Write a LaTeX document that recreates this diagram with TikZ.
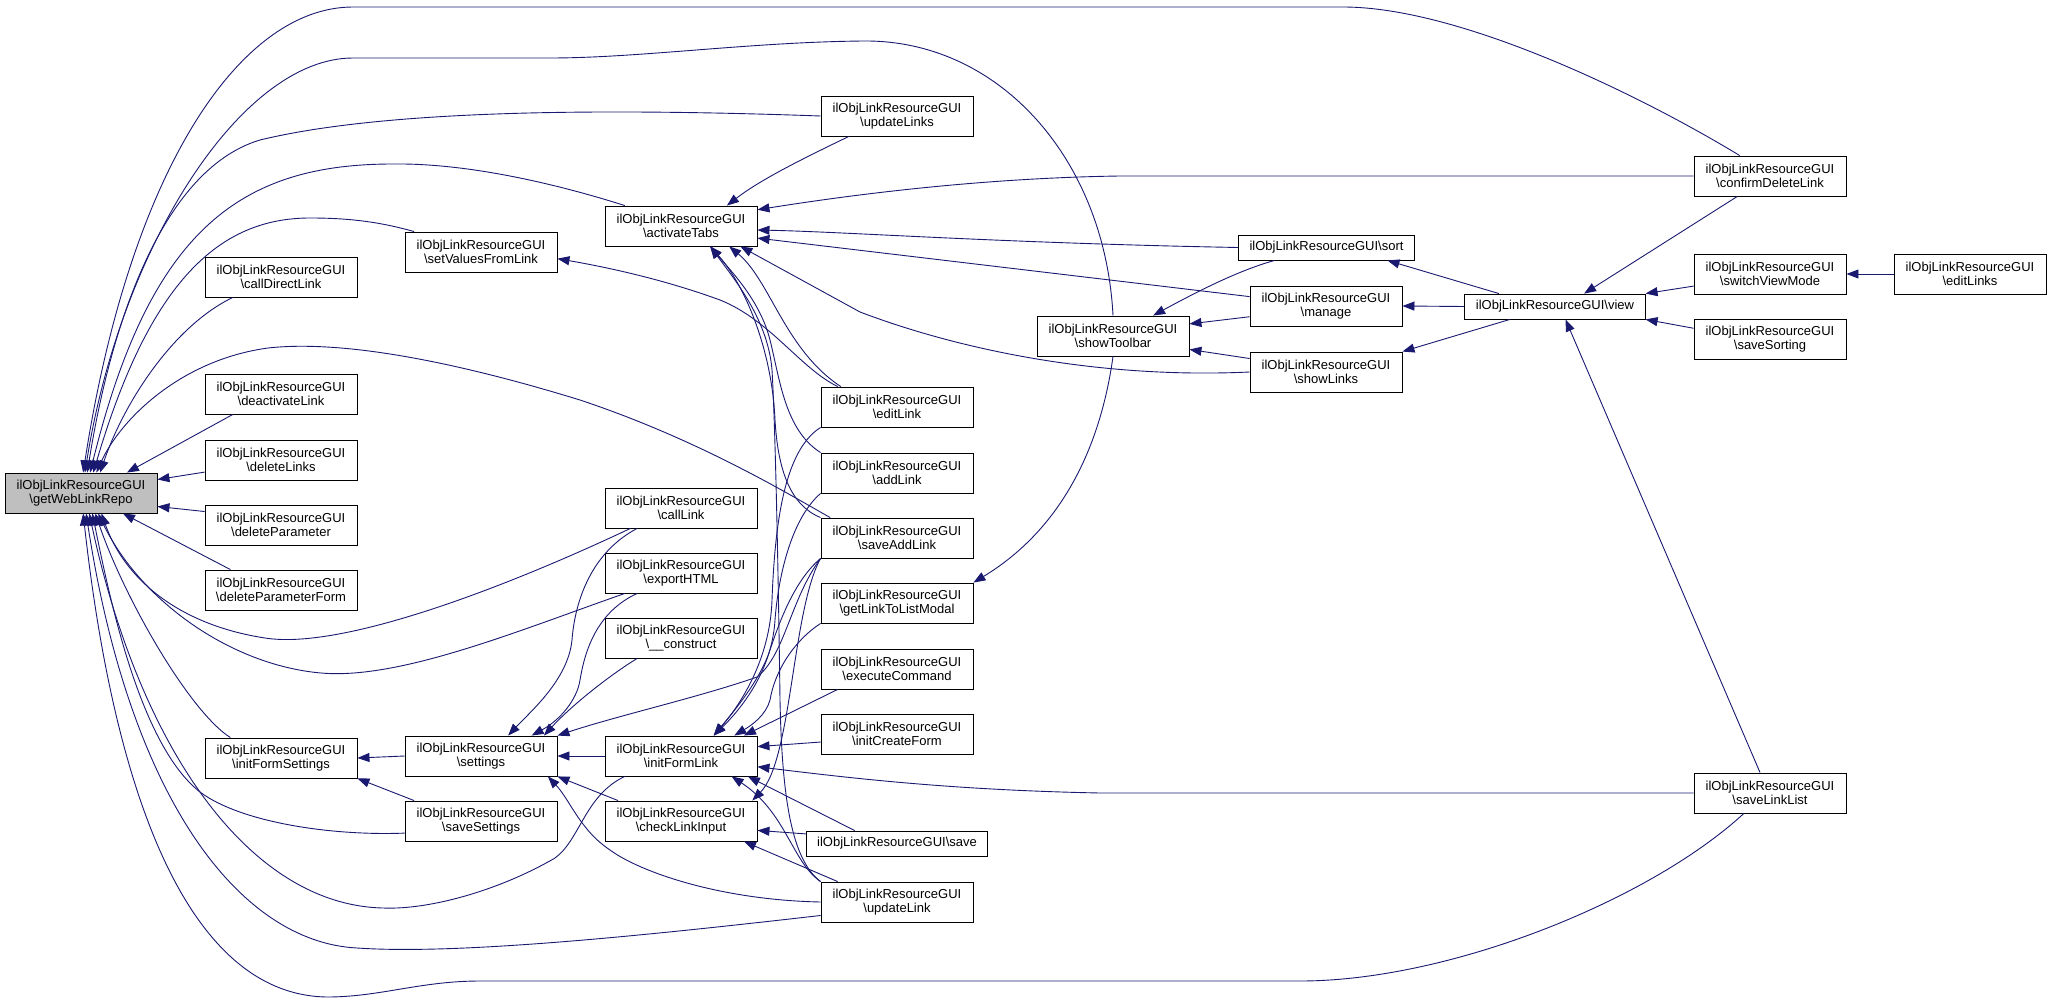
\documentclass[tikz,border=0pt]{standalone}
\usepackage{fontspec}
\setmainfont{Liberation Sans}
\usetikzlibrary{arrows.meta}
\definecolor{callblue}{HTML}{191970}
\definecolor{rootgray}{HTML}{BFBFBF}
\newcommand{\ilgui}{ilObjLinkResourceGUI}
\tikzset{
  fn/.style={draw=black, fill=white, line width=0.9pt, inner xsep=11pt, inner ysep=0pt,
    minimum width=152pt, minimum height=40pt, align=center,
    font=\fontsize{13}{14.5}\selectfont},
  fnone/.style={fn, minimum height=25pt},
  call/.style={draw=callblue, line width=0.9pt, -{Triangle[length=12pt,width=9pt]}}
}
\begin{document}
\begin{tikzpicture}[x=1pt, y=-1pt]
\useasboundingbox (0,0) rectangle (2052,1003);

% nodes
\node[fn, fill=rootgray] (rep) at (81,493) {\ilgui\\\textbackslash getWebLinkRepo};
\foreach \n/\y/\lab in {cdl/277/callDirectLink, dal/394/deactivateLink, dl/460/deleteLinks,
    dp/525/deleteParameter, dpf/590/deleteParameterForm, ifs/758/initFormSettings}
  \node[fn] (\n) at (281,\y) {\ilgui\\\textbackslash \lab};
\foreach \n/\y/\lab in {svfl/252/setValuesFromLink, sett/756/settings, ss/821/saveSettings}
  \node[fn] (\n) at (481,\y) {\ilgui\\\textbackslash \lab};
\foreach \n/\y/\lab in {tabs/226/activateTabs, cl/508/callLink, eh/573/exportHTML,
    cons/638/\_\_construct, ifl/756/initFormLink, cli/821/checkLinkInput}
  \node[fn] (\n) at (681,\y) {\ilgui\\\textbackslash \lab};
\foreach \n/\y/\lab in {ul/116/updateLinks, el/407/editLink, al/473/addLink, sal/538/saveAddLink,
    gltl/603/getLinkToListModal, ec/669/executeCommand, icf/734/initCreateForm, ulk/902/updateLink}
  \node[fn] (\n) at (897,\y) {\ilgui\\\textbackslash \lab};
\node[fnone] (save) at (897,843.5) {\ilgui\textbackslash save};
\node[fn] (tb) at (1113,336) {\ilgui\\\textbackslash showToolbar};
\node[fnone] (sort) at (1326.5,247.5) {\ilgui\textbackslash sort};
\node[fn] (mg) at (1326,306) {\ilgui\\\textbackslash manage};
\node[fn] (sl) at (1326,372) {\ilgui\\\textbackslash showLinks};
\node[fnone] (view) at (1555,306.5) {\ilgui\textbackslash view};
\foreach \n/\y/\lab in {cdlk/176/confirmDeleteLink, svm/274/switchViewMode, ssort/339/saveSorting,
    sll/793/saveLinkList}
  \node[fn] (\n) at (1770,\y) {\ilgui\\\textbackslash \lab};
\node[fn] (el2) at (1970,274) {\ilgui\\\textbackslash editLinks};

% callers of getWebLinkRepo
\draw[call] (cdlk.146) .. controls (1640,95) and (1460,7) .. (1343,7) -- (353,7) .. controls (240,7) and (130,170) .. (rep.84);
\draw[call] (tb.north) .. controls (1105,160) and (1000,40) .. (864,41) .. controls (750,42) and (640,58) .. (550,58) -- (353,58) .. controls (240,58) and (120,250) .. (rep.79);
\draw[call] (ul.west) .. controls (650,110) and (400,106) .. (260,140) .. controls (160,170) and (110,330) .. (rep.73);
\draw[call] (tabs.160) .. controls (560,185) and (470,163) .. (393,164) .. controls (240,164) and (150,230) .. (rep.66);
\draw[call] (svfl.163) .. controls (380,222) and (350,218) .. (310,218) .. controls (220,218) and (150,280) .. (rep.59);
\draw[call] (sal.163) .. controls (790,495) and (700,440) .. (580,400) .. controls (450,360) and (340,340) .. (268,348) .. controls (180,360) and (120,420) .. (rep.53);
\draw[call] (cdl.203) .. controls (175,325) and (125,400) .. (rep.47);
\draw[call] (dal.203) -- (rep.24);
\draw[call] (dl.189) -- (rep.10);
\draw[call] (dp.170) -- (rep.350);
\draw[call] (dpf.158) -- (rep.334);
\draw[call] (ifs.158) .. controls (190,712) and (125,600) .. (rep.305);
\draw[call] (cl.202) .. controls (500,590) and (340,650) .. (265,638) .. controls (180,625) and (125,580) .. (rep.315);
\draw[call] (eh.200) .. controls (520,630) and (400,680) .. (321,673) .. controls (230,665) and (140,600) .. (rep.310);
\draw[call] (ss.189) .. controls (330,836) and (240,822) .. (200,792) .. controls (140,745) and (110,600) .. (rep.299);
\draw[call] (ifl.200) .. controls (585,795) and (580,840) .. (555,858) .. controls (500,890) and (430,910) .. (383,908) .. controls (250,905) and (140,750) .. (rep.292);
\draw[call] (ulk.190) .. controls (650,935) and (460,955) .. (357,948) .. controls (240,942) and (130,800) .. (rep.284);
\draw[call] (sll.218) .. controls (1650,900) and (1450,981) .. (1300,981) -- (480,981) .. controls (420,981) and (380,997) .. (327,997) .. controls (190,995) and (115,800) .. (rep.276);

% setValuesFromLink
\draw[call] (el.161) .. controls (800,368) and (770,320) .. (720,300) .. controls (660,278) and (600,266) .. (svfl.355);

% activateTabs
\draw[call] (ul.203) .. controls (800,160) and (760,180) .. (tabs.24);
\draw[call] (cdlk.west) -- (1120,176) .. controls (980,178) and (850,195) .. (tabs.12);
\draw[call] (sort.west) .. controls (1000,243) and (850,232) .. (tabs.357);
\draw[call] (mg.173) -- (tabs.351);
\draw[call] (sl.west) .. controls (1100,379) and (960,350) .. (860,312) -- (tabs.341);
\draw[call] (el.160) .. controls (785,350) and (770,280) .. (tabs.337);
\draw[call] (al.north west) .. controls (785,430) and (780,380) .. (770,340) .. controls (760,300) and (730,270) .. (tabs.325);
\draw[call] (sal.north west) .. controls (790,505) and (778,470) .. (775,420) .. controls (772,350) and (745,285) .. (tabs.325);
\draw[call] (ulk.north west) .. controls (792,860) and (782,800) .. (780,700) .. controls (778,550) and (775,420) .. (772,370) .. controls (768,320) and (735,280) .. (tabs.325);

% settings
\draw[call] (ifl.west) -- (sett.east);
\draw[call] (cli.162) -- (sett.south east);
\draw[call] (ulk.west) .. controls (720,900) and (640,872) .. (610,850) .. controls (580,830) and (570,800) .. (sett.343);
\draw[call] (cl.205) .. controls (592,552) and (575,600) .. (572,640) .. controls (568,680) and (530,712) .. (sett.37);
\draw[call] (eh.205) .. controls (597,612) and (585,650) .. (580,680) .. controls (577,700) and (560,720) .. (sett.22);
\draw[call] (cons.205) .. controls (610,675) and (572,705) .. (sett.18);
\draw[call] (sal.south west) .. controls (790,600) and (785,655) .. (757,677) .. controls (700,697) and (620,715) .. (sett.north east);

% initFormSettings
\draw[call] (sett.west) -- (ifs.east);
\draw[call] (ss.163) -- (ifs.south east);

% initFormLink
\draw[call] (el.south west) .. controls (785,450) and (775,520) .. (772,600) .. controls (770,660) and (740,705) .. (ifl.32);
\draw[call] (al.south west) .. controls (790,520) and (778,580) .. (775,620) .. controls (772,670) and (742,708) .. (ifl.32);
\draw[call] (sal.south west) .. controls (795,580) and (780,620) .. (770,650) .. controls (760,680) and (735,710) .. (ifl.32);
\draw[call] (gltl.south west) .. controls (795,640) and (775,670) .. (770,700) .. controls (766,715) and (752,725) .. (ifl.21);
\draw[call] (ec.199) -- (ifl.18);
\draw[call] (icf.186) -- (ifl.7);
\draw[call] (sll.west) -- (1100,793) .. controls (950,790) and (850,778) .. (ifl.352);
\draw[call] (save.163) -- (ifl.343);
\draw[call] (ulk.north west) .. controls (792,862) and (786,812) .. (ifl.338);

% checkLinkInput
\draw[call] (save.174) -- (cli.353);
\draw[call] (ulk.161) -- (cli.342);
\draw[call] (sal.south west) .. controls (792,610) and (792,760) .. (cli.16);

% showToolbar
\draw[call] (sort.194) .. controls (1240,270) and (1200,290) .. (tb.27);
\draw[call] (mg.188) -- (tb.9);
\draw[call] (sl.170) -- (tb.350);
\draw[call] (tb.south) .. controls (1100,450) and (1060,530) .. (gltl.north east);

% view
\draw[call] (view.167) -- (sort.348);
\draw[call] (view.west) -- (mg.east);
\draw[call] (view.196) -- (sl.north east);
\draw[call] (cdlk.212) -- (view.24);
\draw[call] (svm.189) -- (view.north east);
\draw[call] (ssort.172) -- (view.south east);
\draw[call] (sll.116) -- (view.309);
\draw[call] (el2.west) -- (svm.east);
\end{tikzpicture}
\end{document}
